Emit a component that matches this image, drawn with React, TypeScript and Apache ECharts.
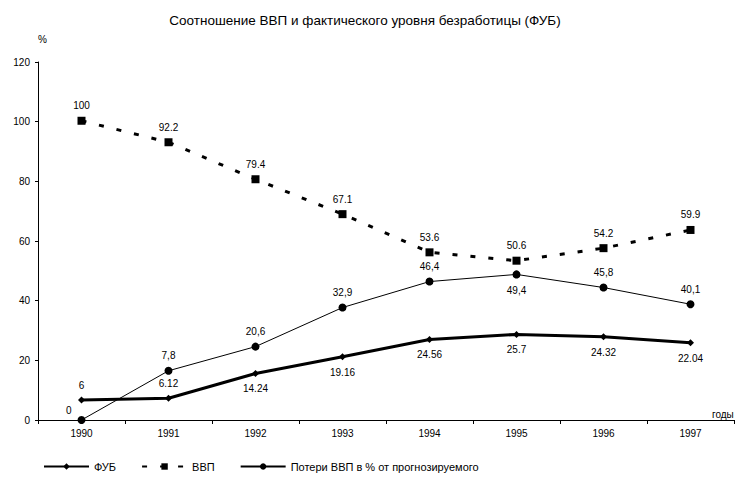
import React, { useEffect, useRef } from "react";
import * as echarts from "echarts";

const years = ["1990", "1991", "1992", "1993", "1994", "1995", "1996", "1997"];
const fubValues = [6.7, 7.3, 15.6, 21.2, 27.0, 28.7, 27.9, 25.9];
const fubLabels = ["6", "6.12", "14.24", "19.16", "24.56", "25.7", "24.32", "22.04"];
const vvpValues = [100.3, 93.1, 80.7, 69.0, 56.2, 53.4, 57.6, 63.7];
const vvpLabels = ["100", "92.2", "79.4", "67.1", "53.6", "50.6", "54.2", "59.9"];
const lossValues = [0, 16.5, 24.6, 37.7, 46.4, 48.8, 44.4, 38.8];
const lossLabels = ["0", "7,8", "20,6", "32,9", "46,4", "49,4", "45,8", "40,1"];
const yTicks = { min: 0, max: 120, interval: 20 };

const FONT = "'Liberation Sans', Arial, sans-serif";

export default function App() {
  const ref = useRef<HTMLDivElement>(null);
  useEffect(() => {
    if (!ref.current) return;
    const chart = echarts.init(ref.current, undefined, { renderer: "svg" });
    const lbl = { fontFamily: FONT, fontSize: 10, color: "#000" };

    const fubData = fubValues.map((v, i) => ({
      value: v,
      label: { position: i < 2 ? "top" : "bottom", distance: i < 2 ? 6 : 7 },
    }));
    const vvpData = vvpValues.map((v) => ({ value: v }));
    const lossData = lossValues.map((v, i) => {
      if (i === 0) return { value: v, label: { position: "left", offset: [0, -10] } };
      if (i === 5) return { value: v, label: { position: "bottom", distance: 7 } };
      return { value: v };
    });

    chart.setOption({
      animation: false,
      backgroundColor: "#fff",
      title: {
        text: "Соотношение ВВП и фактического уровня безработицы (ФУБ)",
        left: 360,
        textAlign: "center",
        top: 8,
        textStyle: { fontFamily: FONT, fontSize: 13.5, fontWeight: "normal", color: "#000" },
      },
      grid: { left: 38, right: 6, top: 62, bottom: 58 },
      legend: {
        left: 38,
        top: 456,
        itemGap: 25,
        itemWidth: 45,
        itemHeight: 8,
        textStyle: { fontFamily: FONT, fontSize: 11, color: "#000" },
        data: ["ФУБ", "ВВП", "Потери ВВП в % от прогнозируемого"],
      },
      xAxis: {
        type: "category",
        data: years,
        boundaryGap: true,
        axisLine: { lineStyle: { color: "#000", width: 1 } },
        axisTick: { show: true, length: 4, lineStyle: { color: "#000" } },
        axisLabel: { fontFamily: FONT, fontSize: 10, color: "#000", margin: 8 },
      },
      yAxis: {
        type: "value",
        min: yTicks.min,
        max: yTicks.max,
        interval: yTicks.interval,
        name: "%",
        nameLocation: "end",
        nameGap: 18,
        nameTextStyle: { fontFamily: FONT, fontSize: 10, color: "#000", align: "left" },
        splitLine: { show: false },
        axisLine: { show: true, lineStyle: { color: "#000", width: 1 } },
        axisTick: { show: true, length: 3, lineStyle: { color: "#000" } },
        axisLabel: { fontFamily: FONT, fontSize: 10, color: "#000", margin: 8 },
      },
      graphic: [
        {
          type: "text",
          left: 712,
          top: 409,
          style: { text: "годы", fontFamily: FONT, fontSize: 10, fill: "#000" },
        },
      ],
      series: [
        {
          name: "ФУБ",
          type: "line",
          data: fubData,
          symbol: "diamond",
          symbolSize: 7,
          itemStyle: { color: "#000" },
          lineStyle: { color: "#000", width: 3 },
          label: {
            show: true,
            ...lbl,
            formatter: (p: any) => fubLabels[p.dataIndex],
          },
        },
        {
          name: "ВВП",
          type: "line",
          data: vvpData,
          symbol: "rect",
          symbolSize: 8,
          itemStyle: { color: "#000" },
          lineStyle: { color: "#000", width: 3, type: [5, 13] },
          label: {
            show: true,
            position: "top",
            distance: 6,
            ...lbl,
            formatter: (p: any) => vvpLabels[p.dataIndex],
          },
        },
        {
          name: "Потери ВВП в % от прогнозируемого",
          type: "line",
          data: lossData,
          symbol: "circle",
          symbolSize: 8,
          itemStyle: { color: "#000" },
          lineStyle: { color: "#000", width: 1 },
          label: {
            show: true,
            position: "top",
            distance: 6,
            ...lbl,
            formatter: (p: any) => lossLabels[p.dataIndex],
          },
        },
      ],
    });
    return () => chart.dispose();
  }, []);
  return (
    <div
      ref={ref}
      style={{ position: "absolute", left: 0, top: 0, width: 740, height: 478 }}
    />
  );
}
